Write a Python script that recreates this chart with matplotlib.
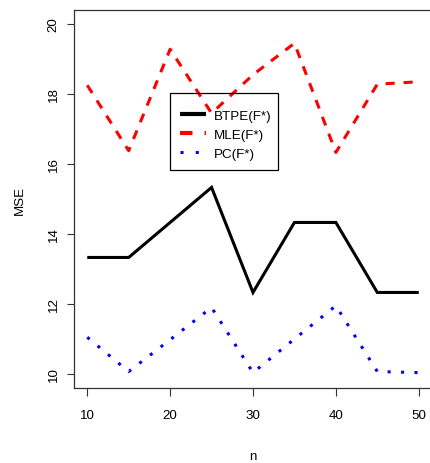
import matplotlib
matplotlib.use("Agg")
import matplotlib.pyplot as plt
from matplotlib.lines import Line2D
from matplotlib.patches import Rectangle

plt.rcParams['font.family'] = ['Liberation Sans', 'DejaVu Sans']

n = [10, 15, 20, 25, 30, 35, 40, 45, 50]
btpe = [13.33, 13.33, 14.33, 15.33, 12.33, 14.33, 14.33, 12.33, 12.33]
mle = [18.25, 16.38, 19.28, 17.45, 18.55, 19.45, 16.33, 18.28, 18.35]
pc = [11.05, 10.07, 10.98, 11.9, 10.04, 11.0, 11.95, 10.07, 10.04]
labels = ["BTPE(F*)", "MLE(F*)", "PC(F*)"]
xticks = [10, 20, 30, 40, 50]
yticks = [10, 12, 14, 16, 18, 20]

W, H = 430, 464
fig = plt.figure(figsize=(W / 100, H / 100), dpi=100)
L, R, T, B = 74, 432, 11, 389
ax = fig.add_axes([L / W, (H - B) / H, (R - L) / W, (B - T) / H])

fs = 9.6
lw = 2.2
ax.plot(n, btpe, color='black', lw=lw, solid_capstyle='butt', solid_joinstyle='miter')
ax.plot(n, mle, color='red', lw=lw, linestyle=(0, (3.0, 2.9)), dash_capstyle='butt')
ax.plot(n, pc, color='blue', lw=lw, linestyle=(0, (1.0, 3.4)), dash_capstyle='butt')

ax.set_xlim(8.4, 51.6)
ax.set_ylim(9.6, 20.4)
ax.set_xticks(xticks)
ax.set_yticks(yticks)
ax.set_xticklabels([str(v) for v in xticks])
ax.set_yticklabels([str(v) for v in yticks], rotation=90, va='center')
ax.tick_params(axis='x', length=5.5, width=0.8, pad=9.5, labelsize=fs, color='#333333')
ax.tick_params(axis='y', length=5.2, width=0.8, pad=5.0, labelsize=fs, color='#333333')
for s in ax.spines.values():
    s.set_linewidth(0.9)
    s.set_color('#333333')

fig.text(253 / W, 1 - 457 / H, "n", ha='center', va='center', fontsize=fs)
fig.text(20 / W, 1 - 200 / H, "MSE", ha='center', va='center', rotation=90, fontsize=fs)

handles = [
    Line2D([], [], color='black', lw=3.0, solid_capstyle='butt'),
    Line2D([], [], color='red', lw=3.0, linestyle=(0, (3.0, 2.9)), dash_capstyle='butt'),
    Line2D([], [], color='blue', lw=2.2, linestyle=(0, (1.0, 4.0)), dash_capstyle='butt'),
]
leg = ax.legend(handles, labels, loc='upper left',
                bbox_to_anchor=(167 / W, 1 - 98 / H), bbox_transform=fig.transFigure,
                borderaxespad=0, borderpad=0.95, handlelength=1.95, handletextpad=0.65,
                labelspacing=0.5, fontsize=fs, frameon=False)
fig.add_artist(Rectangle((170 / W, 1 - 171 / H), (278 - 170) / W, (171 - 94) / H,
                         transform=fig.transFigure, fill=False, edgecolor='black',
                         linewidth=0.9, zorder=5))

fig.savefig("out.png", dpi=100)
